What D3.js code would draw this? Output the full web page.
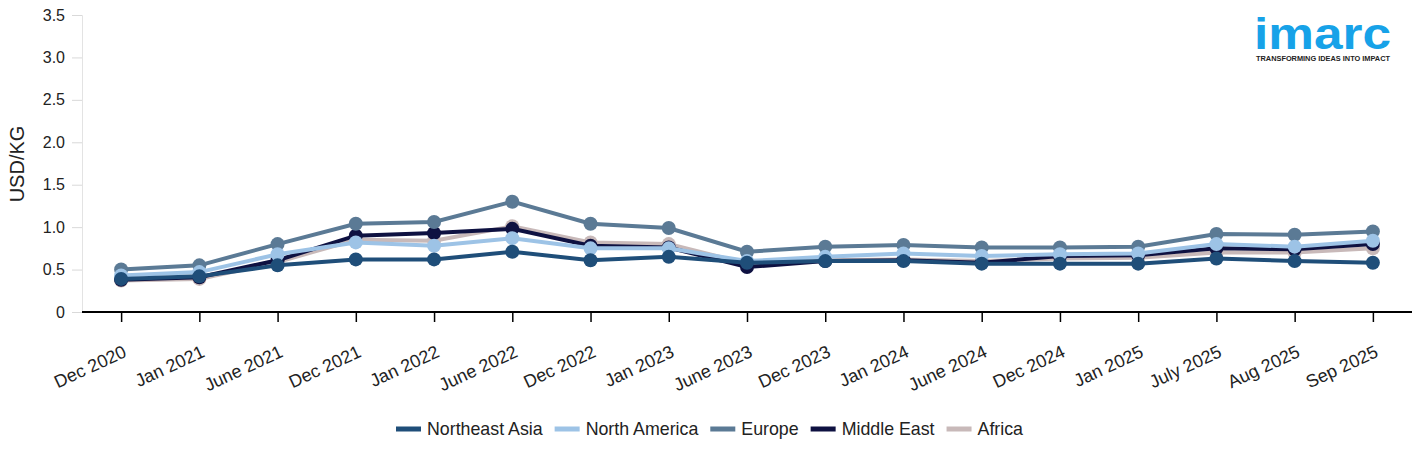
<!DOCTYPE html>
<html>
<head>
<meta charset="utf-8">
<script src="https://cdn.jsdelivr.net/npm/d3@7"></script>
<style>
  body { margin: 0; background: #fff; }
  text { font-family: "Liberation Sans", Arial, sans-serif; }
</style>
</head>
<body>
<div id="chart"></div>
<script>
// months on the x axis
var months = ["Dec 2020", "Jan 2021", "June 2021", "Dec 2021", "Jan 2022", "June 2022",
  "Dec 2022", "Jan 2023", "June 2023", "Dec 2023", "Jan 2024", "June 2024",
  "Dec 2024", "Jan 2025", "July 2025", "Aug 2025", "Sep 2025"];

// USD/KG per region
var northeastAsia = [0.39, 0.42, 0.55, 0.62, 0.62, 0.71, 0.61, 0.65, 0.58, 0.60, 0.60, 0.57, 0.57, 0.57, 0.63, 0.60, 0.58];
var northAmerica  = [0.43, 0.47, 0.68, 0.82, 0.78, 0.87, 0.75, 0.75, 0.60, 0.65, 0.69, 0.66, 0.68, 0.69, 0.80, 0.77, 0.84];
var europe        = [0.50, 0.55, 0.80, 1.04, 1.06, 1.30, 1.04, 0.99, 0.71, 0.77, 0.79, 0.76, 0.76, 0.77, 0.92, 0.91, 0.95];
var middleEast    = [0.38, 0.41, 0.61, 0.90, 0.93, 0.98, 0.78, 0.76, 0.53, 0.60, 0.61, 0.58, 0.66, 0.67, 0.75, 0.74, 0.80];
var africa        = [0.37, 0.39, 0.59, 0.85, 0.84, 1.01, 0.82, 0.80, 0.57, 0.61, 0.62, 0.60, 0.63, 0.64, 0.70, 0.70, 0.75];

var seriesNames = ["Northeast Asia", "North America", "Europe", "Middle East", "Africa"];
var seriesColors = ["#1f4e79", "#9dc3e6", "#5b7a95", "#0e1141", "#c8b9b9"];
var seriesValues = [northeastAsia, northAmerica, europe, middleEast, africa];

var yTicks = [0, 0.5, 1, 1.5, 2, 2.5, 3, 3.5];

var W = 1425, H = 454;
var margin = {left: 82, right: 1412, top: 15, bottom: 312};

var svg = d3.select("#chart").append("svg")
    .attr("width", W)
    .attr("height", H);

var x = d3.scalePoint()
    .domain(months)
    .range([margin.left, margin.right])
    .padding(0.5);

var y = d3.scaleLinear()
    .domain([0, 3.5])
    .range([margin.bottom, margin.top]);

// y axis
var yAxis = svg.append("g")
    .attr("transform", `translate(${margin.left},0)`)
    .call(d3.axisLeft(y).tickValues(yTicks).tickSize(10).tickPadding(7)
        .tickFormat(function(d) { return d === 0 ? "0" : d.toFixed(1); }));
yAxis.select(".domain").attr("stroke", "#e3e3e3");
yAxis.selectAll(".tick line").attr("stroke", "#d9d9d9");
yAxis.selectAll(".tick text")
    .attr("font-size", 16)
    .attr("fill", "#222")
    .attr("font-family", "Liberation Sans, Arial, sans-serif");

// x axis
var xAxis = svg.append("g")
    .attr("transform", `translate(0,${margin.bottom})`)
    .call(d3.axisBottom(x).tickSize(10).tickSizeOuter(0));
xAxis.select(".domain").attr("stroke", "#000").attr("stroke-width", 2)
    .attr("d", `M${margin.left},0H${margin.right}`);
xAxis.selectAll(".tick line").attr("stroke", "#000").attr("stroke-width", 1.5);
xAxis.selectAll(".tick text")
    .attr("font-size", 18)
    .attr("fill", "#222")
    .attr("font-family", "Liberation Sans, Arial, sans-serif")
    .attr("text-anchor", "end")
    .attr("dy", null)
    .attr("y", null)
    .attr("transform", "translate(6,44) rotate(-25)");

// y axis title
svg.append("text")
    .attr("transform", "translate(24,164) rotate(-90)")
    .attr("text-anchor", "middle")
    .attr("font-size", 20)
    .attr("fill", "#222")
    .text("USD/KG");

// lines, drawn back to front
var line = d3.line()
    .x(function(d, i) { return x(months[i]); })
    .y(function(d) { return y(d); });

for (var s = seriesValues.length - 1; s >= 0; s--) {
    var g = svg.append("g");
    g.append("path")
        .datum(seriesValues[s])
        .attr("fill", "none")
        .attr("stroke", seriesColors[s])
        .attr("stroke-width", 4)
        .attr("d", line);
    g.selectAll("circle")
        .data(seriesValues[s])
        .enter().append("circle")
        .attr("cx", function(d, i) { return x(months[i]); })
        .attr("cy", function(d) { return y(d); })
        .attr("r", 7)
        .attr("fill", seriesColors[s]);
}

// legend
var lx = 396, ly = 429;
seriesNames.forEach(function(name, i) {
    svg.append("rect")
        .attr("x", lx).attr("y", ly - 2.5)
        .attr("width", 25).attr("height", 5)
        .attr("fill", seriesColors[i]);
    var t = svg.append("text")
        .attr("x", lx + 31).attr("y", ly + 6)
        .attr("font-size", 17.8)
        .attr("fill", "#222")
        .text(name);
    lx += 31 + t.node().getComputedTextLength() + 12;
});

// logo
svg.append("text")
    .attr("x", 1254).attr("y", 49)
    .attr("font-family", "Inter, Lato, sans-serif")
    .attr("font-weight", 600)
    .attr("font-size", 44)
    .attr("fill", "#17a2e8")
    .attr("textLength", 137)
    .attr("lengthAdjust", "spacingAndGlyphs")
    .text("imarc");
svg.append("text")
    .attr("x", 1256).attr("y", 61)
    .attr("font-family", "Inter, Lato, sans-serif")
    .attr("font-weight", 700)
    .attr("font-size", 7)
    .attr("fill", "#222")
    .attr("textLength", 134)
    .attr("lengthAdjust", "spacingAndGlyphs")
    .text("TRANSFORMING IDEAS INTO IMPACT");
</script>
</body>
</html>
